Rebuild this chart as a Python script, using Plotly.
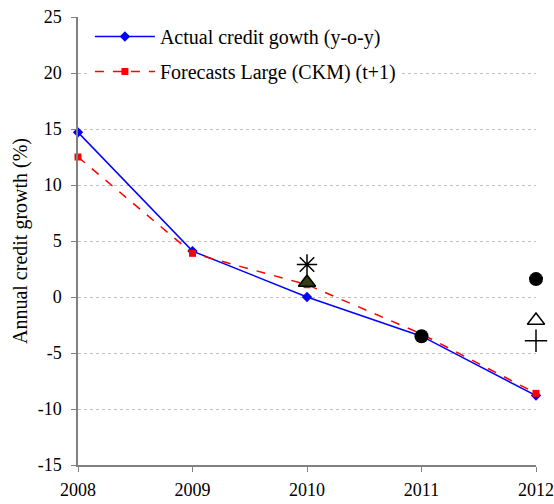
import plotly.graph_objects as go

years = [2008, 2009, 2010, 2011, 2012]
actual = [14.7, 4.1, 0.0, -3.5, -8.8]
forecast = [12.5, 3.9, 1.1, -3.3, -8.6]

star_x = [2010]
star_y = [2.9]
tri_fill_x = [2010]
tri_fill_y = [1.3]
dot_x = [2011, 2012]
dot_y = [-3.5, 1.6]
tri_open_x = [2012]
tri_open_y = [-2.1]
plus_x = [2012]
plus_y = [-3.9]

y_ticks = [-15, -10, -5, 0, 5, 10, 15, 20, 25]
y_ticktext = ["-15", "-10", "-5", "0", "5", "10", "15", "20", "25"]

font = "Liberation Serif, Times New Roman, serif"

fig = go.Figure()
fig.add_trace(go.Scatter(x=years, y=actual, mode="lines+markers", name="Actual credit gowth (y-o-y)",
                         legendgroup="a",
                         line=dict(color="#0000ff", width=1.5),
                         marker=dict(symbol="diamond", size=8, color="#0000ff"), cliponaxis=False))
fig.add_trace(go.Scatter(x=years, y=forecast, mode="lines+markers", name="Forecasts Large (CKM) (t+1)",
                         legendgroup="b",
                         line=dict(color="#ff0000", width=1.5, dash="dash"),
                         marker=dict(symbol="square", size=7, color="#ff0000"), cliponaxis=False))
fig.add_trace(go.Scatter(x=star_x, y=star_y, mode="markers", showlegend=False,
                         marker=dict(symbol="asterisk-open", size=17, color="black",
                                     line=dict(color="black", width=1.5)),
                         cliponaxis=False))
fig.add_trace(go.Scatter(x=tri_fill_x, y=tri_fill_y, mode="markers", showlegend=False,
                         marker=dict(symbol="triangle-up", size=15, color="#3b3b10",
                                     line=dict(color="black", width=1.5)), cliponaxis=False))
fig.add_trace(go.Scatter(x=dot_x, y=dot_y, mode="markers", showlegend=False,
                         marker=dict(symbol="circle", size=14, color="black"), cliponaxis=False))
fig.add_trace(go.Scatter(x=tri_open_x, y=tri_open_y, mode="markers", showlegend=False,
                         marker=dict(symbol="triangle-up-open", size=15, color="black",
                                     line=dict(color="black", width=1.5)), cliponaxis=False))
fig.add_trace(go.Scatter(x=plus_x, y=plus_y, mode="markers", showlegend=False,
                         marker=dict(symbol="cross-thin-open", size=16, color="black",
                                     line=dict(color="black", width=1.5)), cliponaxis=False))

fig.update_layout(
    width=554, height=504,
    margin=dict(l=78, r=18, t=17, b=39),
    paper_bgcolor="white", plot_bgcolor="white",
    font=dict(family=font, size=18, color="black"),
    showlegend=True,
    legend=dict(x=0.026, y=1.0, xanchor="left", yanchor="top", bgcolor="white",
                font=dict(family=font, size=20, color="black"), tracegroupgap=6,
                traceorder="grouped", itemwidth=60),
)
fig.update_xaxes(range=[2008, 2012], tickvals=years, ticktext=[str(y) for y in years],
                 showgrid=False, showline=True, linecolor="#808080", linewidth=1.5,
                 ticks="outside", ticklen=5, tickcolor="#808080", zeroline=False, automargin=False,
                 ticklabelstandoff=3, tickfont=dict(family=font, size=18, color="black"))
fig.update_yaxes(range=[-15, 25], tickvals=y_ticks, ticktext=y_ticktext,
                 showgrid=True, gridcolor="#c0c0c0", griddash="dot",
                 showline=True, linecolor="#808080", linewidth=1.5, ticks="outside", ticklen=5,
                 tickcolor="#808080", zeroline=False, automargin=False, ticklabelstandoff=6,
                 tickfont=dict(family=font, size=18, color="black"),
                 title=dict(text="Annual credit growth (%)",
                            font=dict(family=font, size=20, color="black"), standoff=5))

fig.write_html("out.html", config={"displayModeBar": False},
               post_script="document.body.style.margin='0';document.body.style.overflow='hidden';")
